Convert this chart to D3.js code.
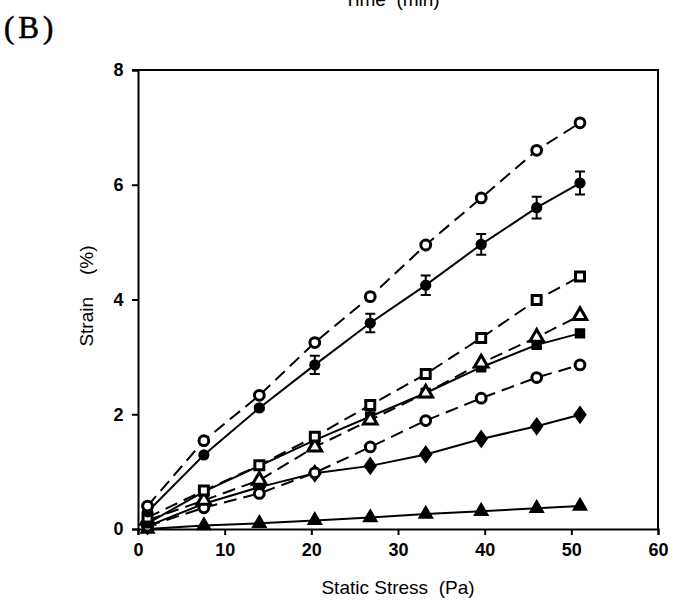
<!DOCTYPE html>
<html>
<head>
<meta charset="utf-8">
<script src="https://cdn.jsdelivr.net/npm/d3@7"></script>
<style>
  body { margin: 0; background: #fff; }
  svg { display: block; }
</style>
</head>
<body>
<div id="chart"></div>
<script>
// static stress (Pa) where each series was measured
const stress = [1.1, 7.6, 14.0, 20.4, 26.8, 33.2, 39.6, 46.0, 51.0];

// strain (%) per series
const openCircleTop = [0.40, 1.54, 2.33, 3.25, 4.05, 4.95, 5.77, 6.60, 7.08];
const filledCircle = [0.30, 1.29, 2.11, 2.86, 3.59, 4.25, 4.96, 5.60, 6.03];
const filledCircleErr = [0, 0, 0.04, 0.16, 0.16, 0.17, 0.18, 0.19, 0.20];
const openSquare = [0.20, 0.67, 1.11, 1.61, 2.16, 2.70, 3.33, 3.99, 4.40];
const openTriangle = [0.15, 0.50, 0.85, 1.43, 1.90, 2.37, 2.89, 3.34, 3.72];
const filledSquare = [0.10, 0.65, 1.10, 1.55, 1.96, 2.37, 2.82, 3.21, 3.41];
const openCircleLow = [0.05, 0.37, 0.62, 0.98, 1.43, 1.89, 2.28, 2.64, 2.86];
const filledDiamond = [0.05, 0.44, 0.73, 0.97, 1.10, 1.30, 1.57, 1.79, 1.99];
const filledTriangle = [0.00, 0.06, 0.10, 0.15, 0.20, 0.26, 0.31, 0.36, 0.40];

const xTicks = [0, 10, 20, 30, 40, 50, 60];
const yTicks = [0, 2, 4, 6, 8];

const series = [
  { values: filledTriangle, marker: 'triangle', filled: true, dashed: false },
  { values: filledDiamond, marker: 'diamond', filled: true, dashed: false },
  { values: openCircleLow, marker: 'circle', filled: false, dashed: true },
  { values: filledSquare, marker: 'square', filled: true, dashed: false },
  { values: openTriangle, marker: 'triangle', filled: false, dashed: true },
  { values: openSquare, marker: 'square', filled: false, dashed: true },
  { values: filledCircle, marker: 'circle', filled: true, dashed: false, err: filledCircleErr },
  { values: openCircleTop, marker: 'circle', filled: false, dashed: true }
];

const width = 673;
const height = 609;
const margin = { top: 70, right: 15, bottom: 80, left: 138 };
const font = 'Liberation Sans, Arial, sans-serif';

const svg = d3.select('#chart')
  .append('svg')
  .attr('width', width)
  .attr('height', height);

const x = d3.scaleLinear().domain([0, 60]).range([margin.left, width - margin.right]);
const y = d3.scaleLinear().domain([0, 8]).range([height - margin.bottom, margin.top]);

// frame (top and right)
svg.append('path')
  .attr('d', `M${x(0) - 6},${y(8)}H${x(60)}V${y(0)}`)
  .attr('fill', 'none')
  .attr('stroke', '#000')
  .attr('stroke-width', 2);

const xAxis = svg.append('g')
  .attr('transform', `translate(0,${y(0)})`)
  .call(d3.axisBottom(x).tickValues(xTicks).tickSize(6).tickFormat(d3.format('d')));

const yAxis = svg.append('g')
  .attr('transform', `translate(${x(0)},0)`)
  .call(d3.axisLeft(y).tickValues(yTicks).tickSize(6).tickFormat(d3.format('d')));

[xAxis, yAxis].forEach(g => {
  g.select('.domain').attr('stroke-width', 2);
  g.selectAll('.tick line').attr('stroke-width', 2);
  g.selectAll('.tick text')
    .attr('font-family', font)
    .attr('font-weight', 'bold')
    .attr('font-size', 18)
    .attr('fill', '#000');
});
xAxis.selectAll('.tick text').attr('dy', '1.0em');
yAxis.selectAll('.tick text').attr('dx', '-0.3em');

const line = d3.line()
  .x((d, i) => x(stress[i]))
  .y(d => y(d));

series.forEach(s => {
  svg.append('path')
    .datum(s.values)
    .attr('d', line)
    .attr('fill', 'none')
    .attr('stroke', '#000')
    .attr('stroke-width', 2)
    .attr('stroke-dasharray', s.dashed ? '13,7' : null);
});

const symbolTypes = {
  circle: d3.symbolCircle,
  square: d3.symbolSquare,
  triangle: d3.symbolTriangle,
  diamond: d3.symbolDiamond
};
const symbolSizes = { circle: 75, square: 80, triangle: 80, diamond: 120 };

series.forEach(s => {
  if (s.err) {
    const eb = svg.append('g');
    s.values.forEach((v, i) => {
      const e = s.err[i];
      if (!e) return;
      const cx = x(stress[i]);
      eb.append('path')
        .attr('d', `M${cx},${y(v - e)}V${y(v + e)}M${cx - 5},${y(v - e)}H${cx + 5}M${cx - 5},${y(v + e)}H${cx + 5}`)
        .attr('stroke', '#000')
        .attr('stroke-width', 2)
        .attr('fill', 'none');
    });
  }
  svg.append('g')
    .selectAll('path')
    .data(s.values)
    .join('path')
    .attr('transform', (d, i) => `translate(${x(stress[i])},${y(d)})${s.marker === 'diamond' ? ' scale(1,0.8)' : ''}`)
    .attr('d', d3.symbol().type(symbolTypes[s.marker]).size(symbolSizes[s.marker]))
    .attr('fill', s.filled ? '#000' : '#fff')
    .attr('stroke', '#000')
    .attr('stroke-width', s.filled ? 1.5 : 3);
});

// titles
svg.append('text')
  .attr('x', (x(0) + x(60)) / 2)
  .attr('y', 594)
  .attr('text-anchor', 'middle')
  .attr('font-family', font)
  .attr('font-size', 19)
  .attr('xml:space', 'preserve')
  .text('Static Stress  (Pa)');

const yTitle = svg.append('text')
  .attr('transform', `translate(93,296) rotate(-90)`)
  .attr('text-anchor', 'middle')
  .attr('font-family', font)
  .attr('font-size', 19);
yTitle.append('tspan').text('Strain');
yTitle.append('tspan').attr('dx', 22).text('(%)');

svg.append('text')
  .attr('x', 392)
  .attr('y', 6)
  .attr('text-anchor', 'middle')
  .attr('font-family', font)
  .attr('font-size', 19)
  .attr('xml:space', 'preserve')
  .text('Time  (min)');

svg.append('text')
  .attr('x', 4)
  .attr('y', 38)
  .attr('font-family', 'Liberation Serif, serif')
  .attr('font-size', 31)
  .attr('stroke', '#000')
  .attr('stroke-width', 0.6)
  .attr('letter-spacing', 4)
  .text('(B)');
</script>
</body>
</html>
